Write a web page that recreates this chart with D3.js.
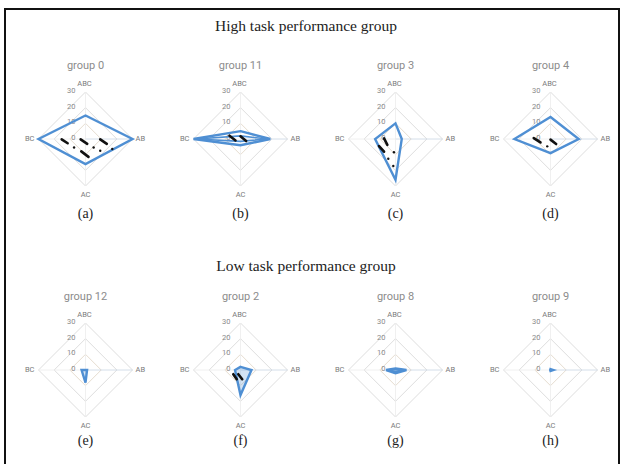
<!DOCTYPE html>
<html><head><meta charset="utf-8">
<script src="https://cdn.jsdelivr.net/npm/d3@7"></script>
<style>body{margin:0;background:#fff}svg{display:block}</style>
</head><body>
<script>
// ---- data ----
const axes = ["ABC", "AB", "AC", "BC"];
const ticks = [0, 10, 20, 30];
const rowTitles = ["High task performance group", "Low task performance group"];
const groupNames = ["group 0", "group 11", "group 3", "group 4", "group 12", "group 2", "group 8", "group 9"];
const captions = ["(a)", "(b)", "(c)", "(d)", "(e)", "(f)", "(g)", "(h)"];
// values per axis, order ABC, AB, AC, BC
const seriesMain = [
  [15, 30, 16, 30],
  [5, 19, 4, 30],
  [10, 4, 26, 13],
  [14, 18, 9, 23],
  [0, 1, 8, 2.5],
  [2, 7, 16, 3.5],
  [1, 7, 2, 6],
  [0.6, 1.8, 0.6, 0.2]
];
const seriesSecond = [
  null,
  [2, 17, 1.5, 28],
  null, null, null, null,
  [0.5, 6, 1, 5.5],
  null
];
// black dash marks, in value units (x right, y up)
const dashMarks = [
  [[-15.2, -0.2, -11.4, -2.7], [-3.1, -0.2, 1.1, -3.1], [9.4, -0.2, 13.6, -3.1], [-2.7, -7.9, 1.9, -11.4]],
  [[-7, 2.1, -3.2, -0.9], [0, 1.7, 3.6, -1.3]],
  [[-7.3, 0.4, -5.2, -3.8], [-10.5, -4.5, -7.3, -8.1]],
  [[-10.7, 0.6, -6.4, -2.2], [0, -0.4, 3.6, -3.2]],
  [],
  [[-4.6, -2.7, -2.4, -5.9], [-1.4, -2.7, 1.1, -5.9]],
  [],
  []
];
const dotMarks = [
  [[-7.3, -5.4], [5.2, -5.4], [9.4, -7.5], [17.1, -6.4]],
  [],
  [[-1, -8.5], [-4.6, -12.6], [-1.4, -17.2]],
  [[-2.1, -4.7]],
  [], [], [], []
];

// ---- layout ----
const W = 623, H = 464;
const colX = [85.5, 240.5, 395.5, 550.5];
const rowY = [139, 370];
const captionDy = [79, 75];
const R = 47;
const blue = "#4f8fd3";

const svg = d3.select("body").append("svg").attr("width", W).attr("height", H);

// frame
svg.append("path").attr("d", `M5,464 L5,9 L619,9 L619,464`)
  .attr("fill", "none").attr("stroke", "#111").attr("stroke-width", 2);

svg.selectAll("text.rowtitle").data(rowTitles).join("text")
  .attr("class", "rowtitle")
  .attr("x", 306).attr("y", (d, i) => i === 0 ? 31 : 271)
  .attr("text-anchor", "middle")
  .attr("font-family", "'Liberation Serif', 'Times New Roman', serif")
  .attr("font-size", 15.5).attr("fill", "#222").text(d => d);

const rScale = d3.scaleLinear().domain([0, 30]).range([0, R]);

groupNames.forEach((name, gi) => {
  const row = Math.floor(gi / 4);
  const cx = colX[gi % 4], cy = rowY[row];
  const g = svg.append("g").attr("transform", `translate(${cx},${cy})`);
  const pt = (v, i) => {
    const a = i * Math.PI / 2;
    return [rScale(v) * Math.sin(a), -rScale(v) * Math.cos(a)];
  };
  const line = d3.line().curve(d3.curveLinearClosed);

  // grid rings
  g.selectAll("path.ring").data(ticks.filter(t => t > 0)).join("path")
    .attr("d", t => line(axes.map((a, i) => pt(t, i))))
    .attr("fill", "none").attr("stroke", (t) => t === 10 ? "#e6ddd0" : "#dedede").attr("stroke-width", 1);
  // axis lines
  g.selectAll("line.ax").data(axes).join("line")
    .attr("x1", 0).attr("y1", 0)
    .attr("x2", (d, i) => pt(30, i)[0]).attr("y2", (d, i) => pt(30, i)[1])
    .attr("stroke", (d, i) => i === 1 ? "#c9d6e3" : "#ececec").attr("stroke-width", 0.8);

  // tick labels
  g.selectAll("text.tick").data(ticks).join("text")
    .attr("x", -10).attr("y", t => -rScale(t) - 1)
    .attr("text-anchor", "end").attr("dominant-baseline", "middle")
    .attr("font-family", "Roboto, 'Open Sans', sans-serif").attr("font-size", 7.5)
    .attr("fill", "#8a8a8a").text(t => t);

  // axis labels
  const lab = [
    {x: -1, y: -55, a: "middle"},
    {x: 50, y: 0, a: "start"},
    {x: 0, y: 56, a: "middle"},
    {x: -51, y: 0, a: "end"}
  ];
  g.selectAll("text.axl").data(axes).join("text")
    .attr("x", (d, i) => lab[i].x).attr("y", (d, i) => lab[i].y)
    .attr("text-anchor", (d, i) => lab[i].a).attr("dominant-baseline", "middle")
    .attr("font-family", "Roboto, 'Open Sans', sans-serif").attr("font-size", 7.5)
    .attr("fill", "#7a7a7a").text(d => d);

  // title
  g.append("text").attr("x", 0).attr("y", -73).attr("text-anchor", "middle")
    .attr("dominant-baseline", "middle")
    .attr("font-family", "Roboto, 'Open Sans', sans-serif").attr("font-size", 11)
    .attr("fill", "#8c8c8c").text(name);

  // caption
  g.append("text").attr("x", 0).attr("y", captionDy[row]).attr("text-anchor", "middle")
    .attr("font-family", "'Liberation Serif', 'Times New Roman', serif").attr("font-size", 14)
    .attr("fill", "#222").text(captions[gi]);

  // series
  const polys = [seriesMain[gi], seriesSecond[gi]].filter(Boolean);
  g.selectAll("path.series").data(polys).join("path")
    .attr("d", vals => line(vals.map((v, i) => pt(v, i))))
    .attr("fill", gi >= 4 ? "rgba(79,143,211,0.25)" : "none")
    .attr("stroke", blue).attr("stroke-width", (d, k) => k === 0 ? 2.4 : 1.6)
    .attr("stroke-linejoin", "miter");

  // black marks
  const xs = d3.scaleLinear().domain([-30, 30]).range([-R, R]);
  const ys = d3.scaleLinear().domain([-30, 30]).range([R, -R]);
  g.selectAll("line.dash").data(dashMarks[gi]).join("line")
    .attr("x1", d => xs(d[0])).attr("y1", d => ys(d[1]))
    .attr("x2", d => xs(d[2])).attr("y2", d => ys(d[3]))
    .attr("stroke", "#111").attr("stroke-width", 2.6).attr("stroke-linecap", "round");
  g.selectAll("circle.dot").data(dotMarks[gi]).join("circle")
    .attr("cx", d => xs(d[0])).attr("cy", d => ys(d[1])).attr("r", 1.2).attr("fill", "#111");
});
</script>
</body></html>
